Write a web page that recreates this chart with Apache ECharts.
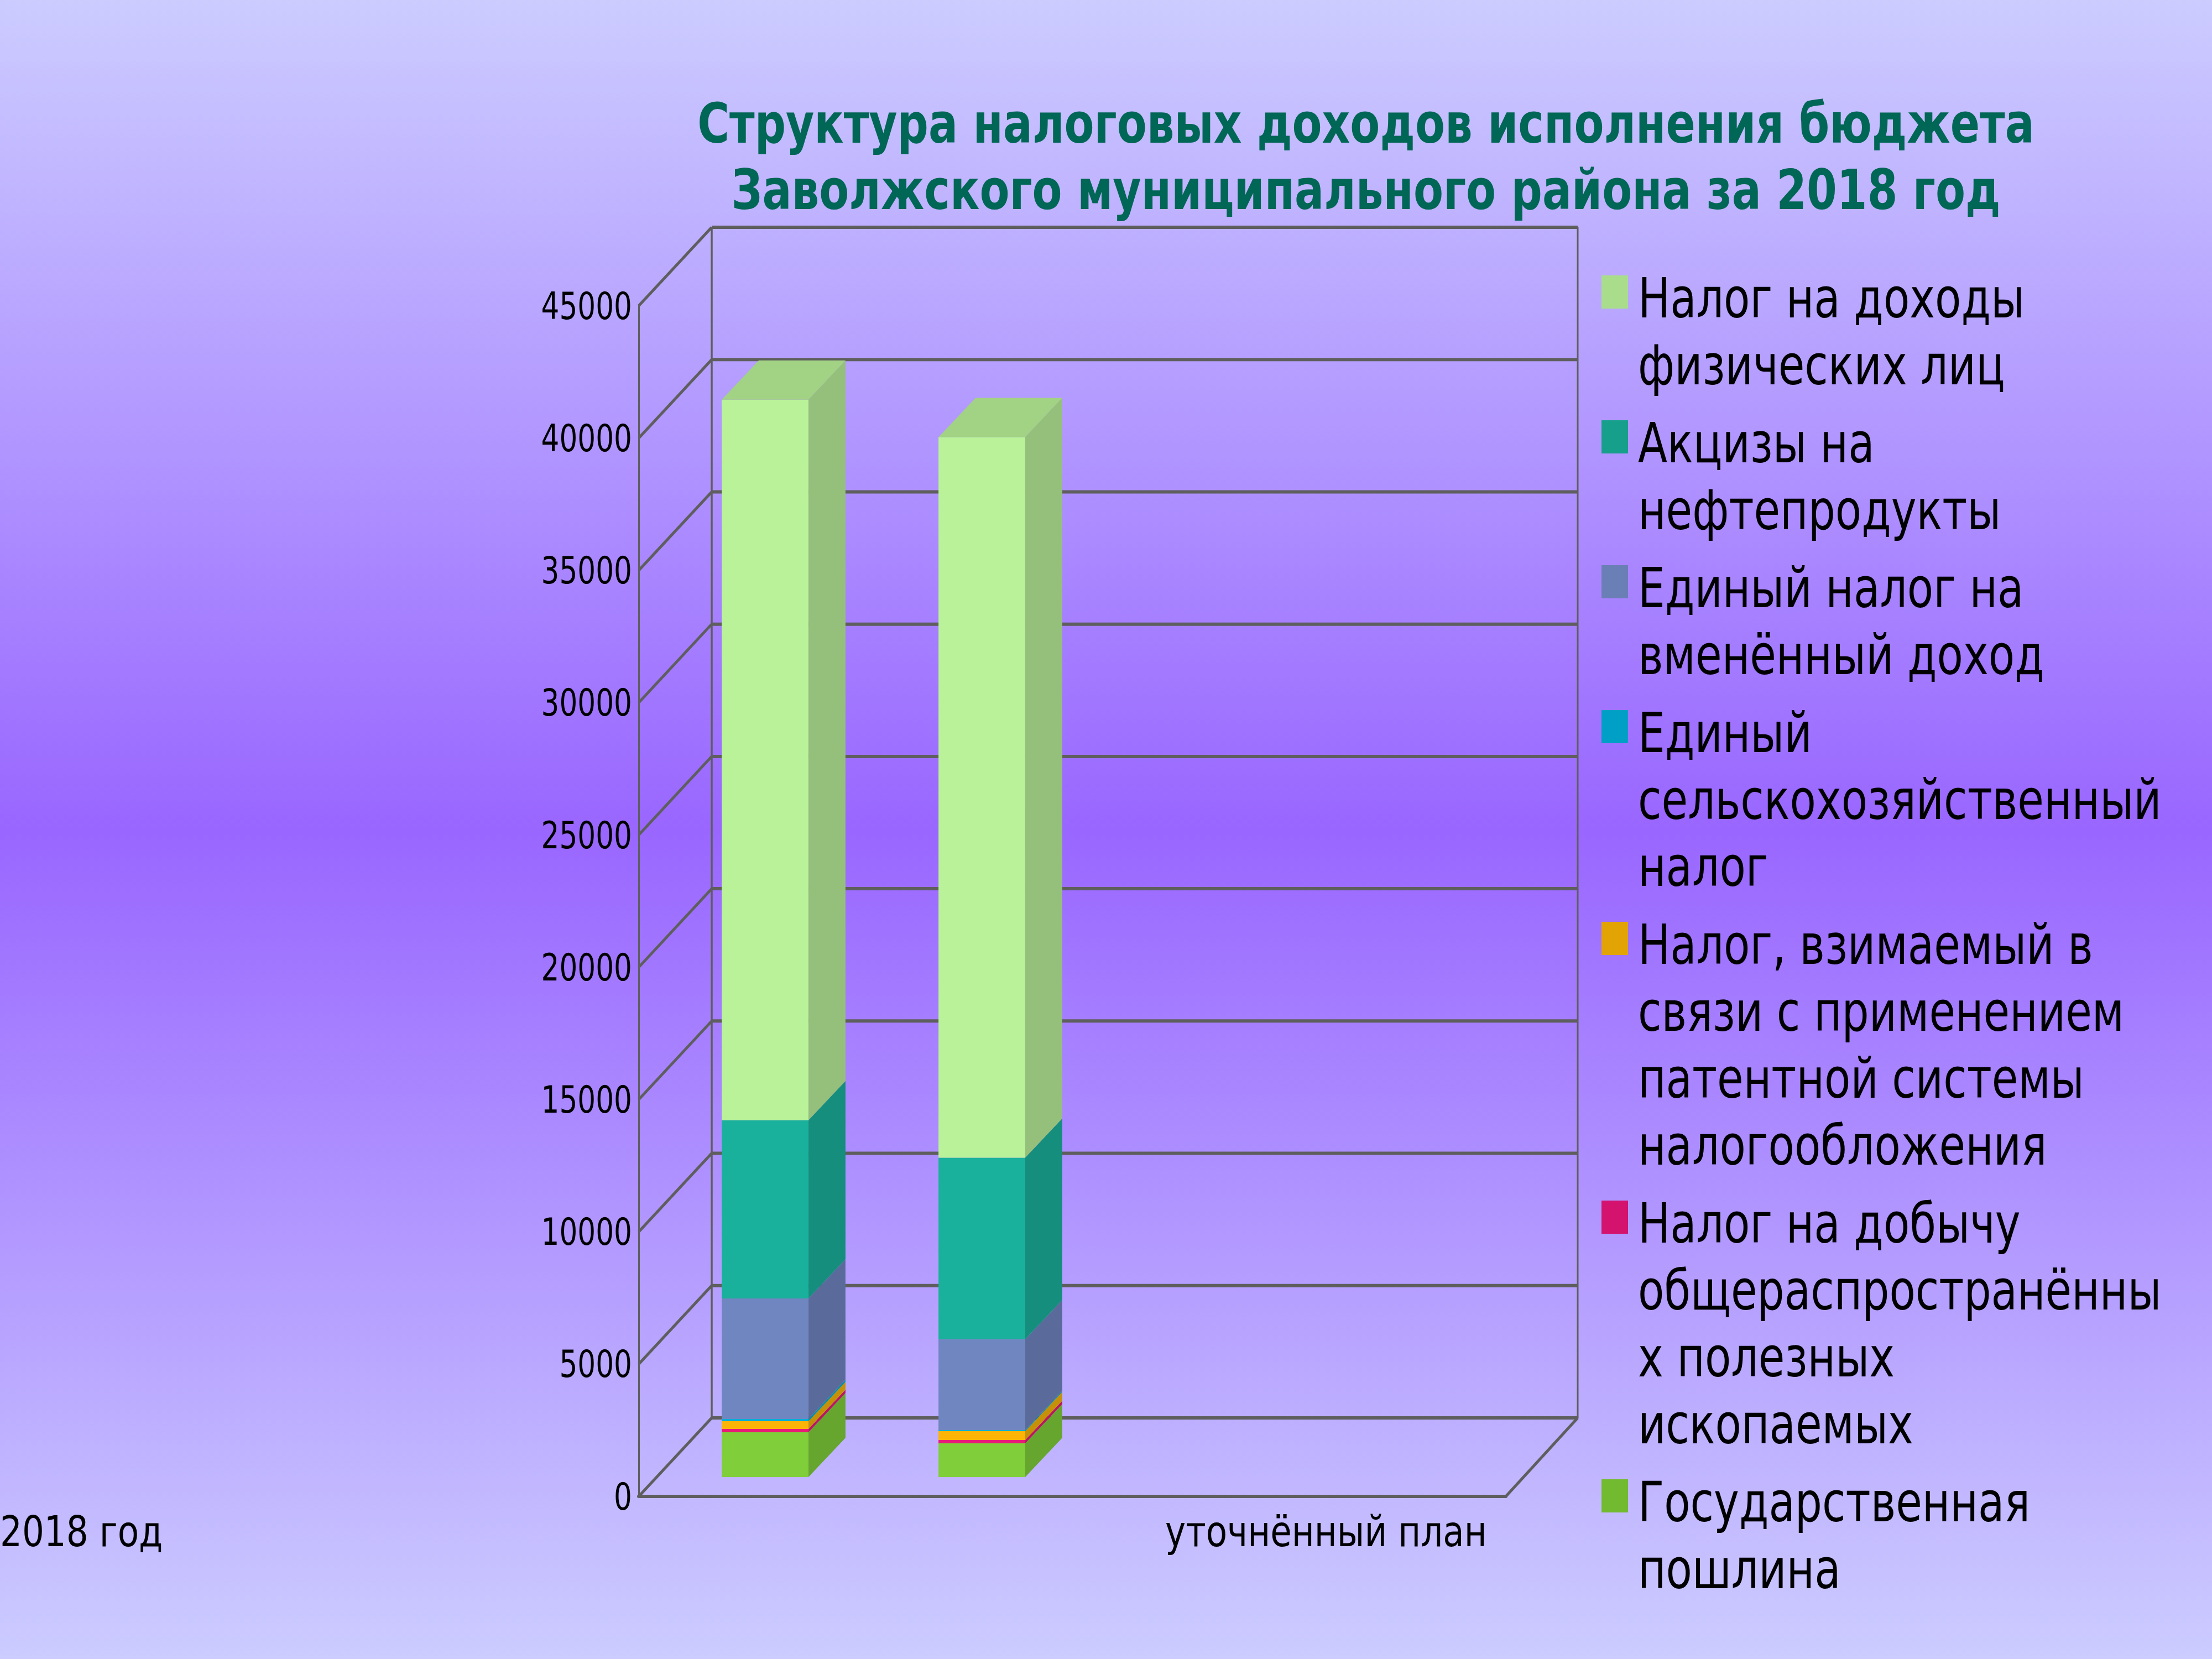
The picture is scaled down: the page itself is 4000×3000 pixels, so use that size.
<!DOCTYPE html>
<html><head><meta charset="utf-8">
<style>html,body{margin:0;padding:0;background:#ccf}#c{width:4000px;height:3000px}</style>
<script src="https://cdn.jsdelivr.net/npm/echarts@6/dist/echarts.min.js"></script>
</head><body><div id="c"></div>
<script>
const categories = ['2018 год', 'уточнённый план', '', ''];
const yTicks = [0, 5000, 10000, 15000, 20000, 25000, 30000, 35000, 40000, 45000];
const titleLines = ['Структура налоговых доходов исполнения бюджета', 'Заволжского муниципального района за 2018 год'];

const seriesNames = ['Государственная пошлина','Налог на добычу общераспространённых полезных ископаемых','Налог, взимаемый в связи с применением патентной системы налогообложения','Единый сельскохозяйственный налог','Единый налог на вменённый доход','Акцизы на нефтепродукты','Налог на доходы физических лиц'];
const gosposhlina = [1692, 1274];
const dobycha = [125, 125];
const patent = [292, 334];
const eshn = [84, 42];
const envd = [4560, 3432];
const akcizy = [6735, 6865];
const ndfl = [27230, 27235];
const seriesValues = [gosposhlina, dobycha, patent, eshn, envd, akcizy, ndfl];

const frontColors = ['#7FCE3A','#E91A78','#FCB406','#00ADD6','#7086C1','#1AB19C','#BAF29A'];
const sideColors  = ['#66A52E','#BB1560','#C49108','#0090AA','#5A6B9B','#158E7D','#95C07B'];
const topColor = '#A2D284';

const legendEntries = [
 {c:'#A9DD8C', lines:['Налог на доходы','физических лиц']},
 {c:'#16A08C', lines:['Акцизы на','нефтепродукты']},
 {c:'#6A7FB5', lines:['Единый налог на','вменённый доход']},
 {c:'#009FC6', lines:['Единый','сельскохозяйственный','налог']},
 {c:'#E2A305', lines:['Налог, взимаемый в','связи с применением','патентной системы','налогообложения']},
 {c:'#D4136E', lines:['Налог на добычу','общераспространённы','х полезных','ископаемых']},
 {c:'#72BA30', lines:['Государственная','пошлина']}
];

const FONT = '"DejaVu Sans"';
const LINE = '#5E5E5E';
const DX = 132, DY = 142;
const BAR_DX = 67, BAR_DY = 71, INSET_DX = 32.5, INSET_DY = 35;
const TXT = {legend:{size:100, sx:0.774}, title:{size:100, sx:0.787}, axis:{size:68, sx:0.76}, cat:{size:77, sx:0.815}};

function txt(text, x, baseline, cfg, extra){
  const o = {type:'text', x:x, y:baseline - 0.346*cfg.size + 10, scaleX:cfg.sx, silent:true,
    style:Object.assign({text:text, fill:'#000', font:cfg.size+'px '+FONT, textAlign:'left', textVerticalAlign:'middle'}, extra||{})};
  return o;
}

const graphics = [];
titleLines.forEach((t,i)=>{
  graphics.push(txt(t, 2470, 257+i*120, TXT.title, {fill:'#006655', font:'bold 100px '+FONT, textAlign:'center'}));
});
let yy = 498;
legendEntries.forEach(e=>{
  graphics.push({type:'rect', silent:true, shape:{x:2896,y:yy,width:48,height:60}, style:{fill:e.c}});
  e.lines.forEach((l,i)=>graphics.push(txt(l, 2962, yy+76+i*121-1, TXT.legend)));
  yy += e.lines.length*121 + 20;
});
graphics.push(txt(categories[0], 0, 2793, TXT.cat));
graphics.push(txt(categories[1], 2107, 2793, TXT.cat));

const wallData = yTicks.map(v=>[0,v]);
const lineSt = w=>({stroke:LINE, lineWidth:w, fill:null});

const seriesList = [];
seriesList.push({
  type:'custom', name:'walls', silent:true, z:1, data:wallData, encode:{x:0,y:1},
  renderItem:(p,api)=>{
    const g = p.coordSys; const y = api.coord([0,api.value(1)])[1];
    const ch = [
      {type:'polyline', shape:{points:[[g.x,y],[g.x+DX,y-DY]]}, style:lineSt(5)},
      {type:'polyline', shape:{points:[[g.x+DX,y-DY],[g.x+g.width+DX-2,y-DY]]}, style:lineSt(6)}
    ];
    if(api.value(1)===0){
      const top = api.coord([0,yTicks[yTicks.length-1]])[1];
      ch.push({type:'polyline', shape:{points:[[g.x+DX,y-DY],[g.x+DX,top-DY]]}, style:lineSt(3.5)});
      ch.push({type:'polyline', shape:{points:[[g.x+g.width+DX-2,y-DY],[g.x+g.width+DX-2,top-DY]]}, style:lineSt(3)});
      ch.push({type:'polyline', shape:{points:[[g.x+g.width,y],[g.x+g.width+DX-2,y-DY]]}, style:lineSt(5)});
    }
    return {type:'group', children:ch};
  }
});
seriesList.push({
  type:'custom', name:'tickLabels', silent:true, z:3, data:wallData, encode:{x:0,y:1},
  renderItem:(p,api)=>{
    const g = p.coordSys; const v = api.value(1); const y = api.coord([0,v])[1];
    return {type:'text', x:g.x-12, y:y+6, scaleX:TXT.axis.sx, silent:true,
      style:{text:String(v), fill:'#000', font:TXT.axis.size+'px '+FONT, textAlign:'right', textVerticalAlign:'middle'}};
  }
});
const cum = [0,0];
seriesValues.forEach((vals,si)=>{
  const data = vals.map((v,i)=>{const d=[i,cum[i],cum[i]+v]; cum[i]+=v; return d;});
  const last = si===seriesValues.length-1;
  seriesList.push({
    type:'custom', name:seriesNames[si], silent:true, z:2, data:data, encode:{x:0,y:[1,2]},
    renderItem:(p,api)=>{
      const band = api.size([1,0])[0]; const w = band*0.4;
      const a = api.coord([api.value(0),api.value(1)]);
      const b = api.coord([api.value(0),api.value(2)]);
      const x1 = a[0]+INSET_DX-w/2, x2 = x1+w;
      const y1 = a[1]-INSET_DY, y2 = b[1]-INSET_DY;
      const ch = [
        {type:'polygon', shape:{points:[[x2,y1],[x2+BAR_DX,y1-BAR_DY],[x2+BAR_DX,y2-BAR_DY],[x2,y2]]}, style:{fill:sideColors[si]}},
        {type:'polygon', shape:{points:[[x1,y1],[x2,y1],[x2,y2],[x1,y2]]}, style:{fill:frontColors[si]}}
      ];
      if(last) ch.push({type:'polygon', shape:{points:[[x1,y2],[x2,y2],[x2+BAR_DX,y2-BAR_DY],[x1+BAR_DX,y2-BAR_DY]]}, style:{fill:topColor}});
      return {type:'group', children:ch};
    }
  });
});

const chart = echarts.init(document.getElementById('c'), null, {renderer:'canvas', width:4000, height:3000});
chart.setOption({
  animation:false,
  backgroundColor:new echarts.graphic.LinearGradient(0,0,0,1,[
    {offset:0,color:'#CCCCFF'},{offset:0.5,color:'#9966FF'},{offset:1,color:'#CCCCFF'}]),
  grid:{left:1155, top:553, width:1568, height:2153, containLabel:false},
  xAxis:{type:'category', data:categories, axisLabel:{show:false}, axisTick:{show:false},
    axisLine:{show:true, lineStyle:{color:LINE, width:6}}, splitLine:{show:false}},
  yAxis:{type:'value', min:0, max:45000, interval:5000, axisLabel:{show:false}, axisTick:{show:false},
    axisLine:{show:true, lineStyle:{color:LINE, width:3}}, splitLine:{show:false}},
  graphic:graphics,
  series:seriesList
});
</script></body></html>
